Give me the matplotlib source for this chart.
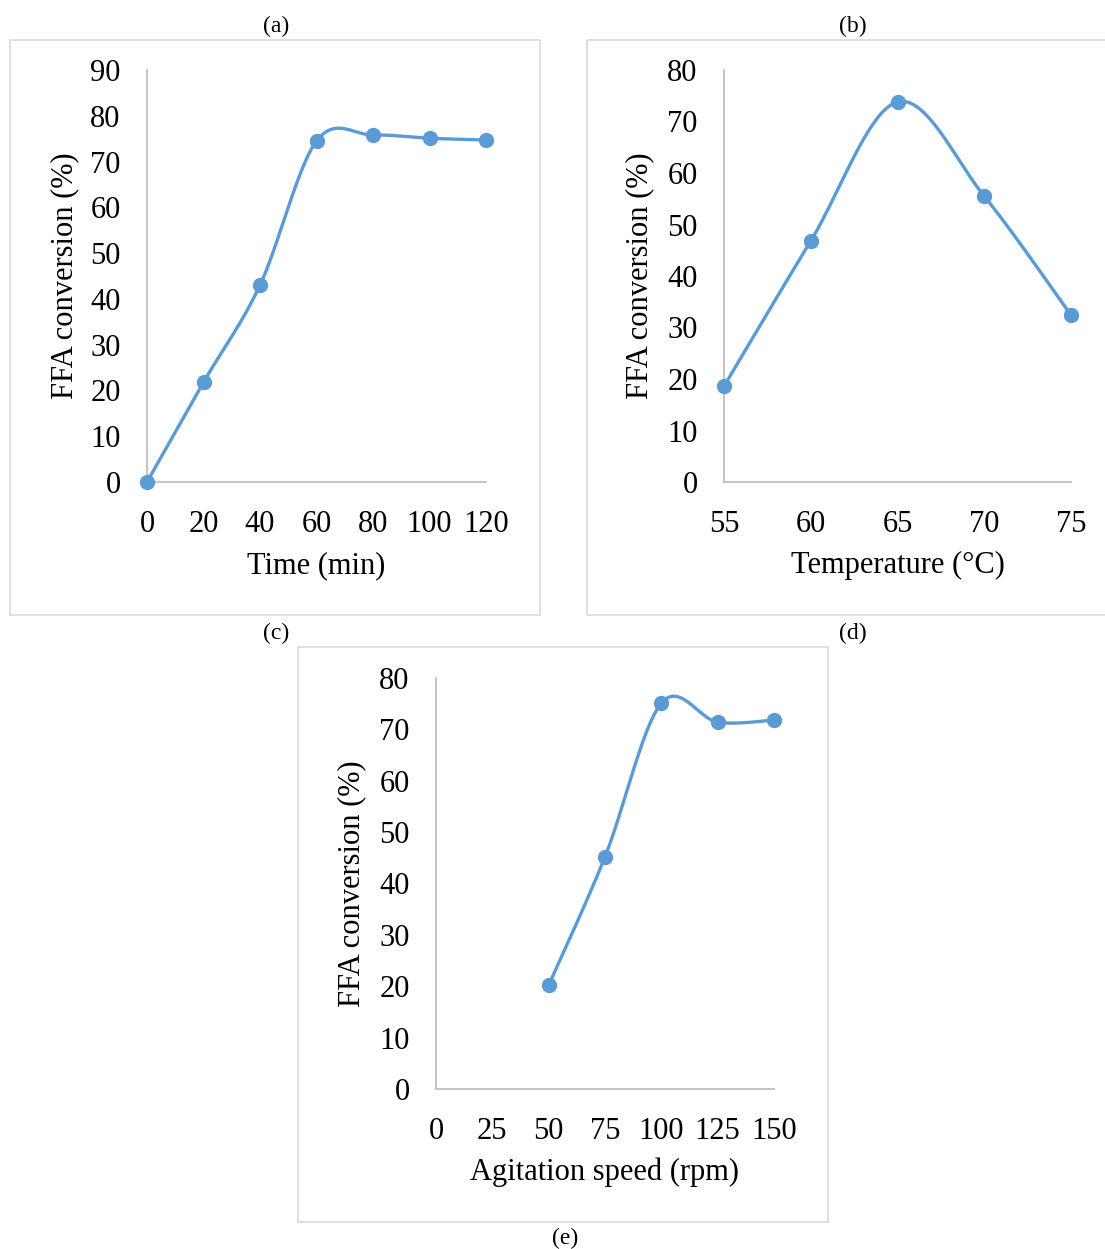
import numpy as np
import matplotlib
matplotlib.use("Agg")
import matplotlib.pyplot as plt
from matplotlib.patches import Rectangle

plt.rcParams['font.family'] = ['Liberation Serif', 'DejaVu Serif']

# ========== 数据 ==========
time_min = [0, 20, 40, 60, 80, 100, 120]
conv_time = [0.0, 21.8, 43.0, 74.5, 75.8, 75.1, 74.7]

temp_c = [55, 60, 65, 70, 75]
conv_temp = [18.6, 46.8, 73.8, 55.5, 32.4]

speed_rpm = [50, 75, 100, 125, 150]
conv_speed = [20.2, 45.2, 75.1, 71.4, 71.8]

LINE_COLOR = '#5b9bd5'
AXIS_COLOR = '#bfbfbf'
BOX_COLOR = '#d9d9d9'
W, H = 1105, 1249
FS = 22


def smooth_curve(ax, xs, ys, n=40):
    """Excel 风格平滑线 (Catmull-Rom / Bezier), 在像素空间计算"""
    pts = ax.transData.transform(np.column_stack([xs, ys]))
    out = [pts[0]]
    m = len(pts)
    for i in range(m - 1):
        p0 = pts[i - 1] if i > 0 else pts[i]
        p1, p2 = pts[i], pts[i + 1]
        p3 = pts[i + 2] if i + 2 < m else pts[i + 1]
        c1 = p1 + (p2 - p0) / 6.0
        c2 = p2 - (p3 - p1) / 6.0
        t = np.linspace(0, 1, n)[1:, None]
        seg = ((1 - t) ** 3) * p1 + 3 * ((1 - t) ** 2) * t * c1 + 3 * (1 - t) * t ** 2 * c2 + t ** 3 * p2
        out.extend(seg)
    out = np.array(out)
    return ax.transData.inverted().transform(out)


def make_panel(fig, rect_px, xs, ys, xticks, yticks, xlabel, ylab_x, xlab_y):
    left, right, bottom, top = rect_px
    ax = fig.add_axes([left / W, 1 - bottom / H, (right - left) / W, (bottom - top) / H])
    ax.set_xlim(xticks[0], xticks[-1])
    ax.set_ylim(yticks[0], yticks[-1])
    ax.set_xticks(xticks)
    ax.set_yticks(yticks)
    for s in ['top', 'right']:
        ax.spines[s].set_visible(False)
    for s in ['left', 'bottom']:
        ax.spines[s].set_color(AXIS_COLOR)
        ax.spines[s].set_linewidth(1.3)
    ax.tick_params(length=0, labelsize=FS)
    ax.tick_params(axis='x', pad=20)
    ax.tick_params(axis='y', pad=19)
    ax.set_facecolor('none')

    fig.canvas.draw()
    curve = smooth_curve(ax, xs, ys)
    ax.plot(curve[:, 0], curve[:, 1], color=LINE_COLOR, lw=2.4, clip_on=False, zorder=3)
    ax.plot(xs, ys, 'o', color=LINE_COLOR, ms=10, clip_on=False, zorder=4)

    ax.set_xlabel(xlabel, fontsize=FS, va='center')
    ax.xaxis.set_label_coords(0.5, xlab_y)
    ax.set_ylabel('FFA conversion (%)', fontsize=FS, va='center')
    ax.yaxis.set_label_coords(ylab_x, 0.5)
    return ax


fig = plt.figure(figsize=(W / 100, H / 100), dpi=100)

# 外框
for (x0, y0, x1, y1) in [(10, 40, 540, 615), (587, 40, 1110, 615), (298, 647, 828, 1222)]:
    fig.patches.append(Rectangle((x0 / W, 1 - y1 / H), (x1 - x0) / W, (y1 - y0) / H,
                                 transform=fig.transFigure, fill=False,
                                 edgecolor=BOX_COLOR, lw=1.2))

make_panel(fig, (147, 486, 482, 70), time_min, conv_time,
           list(range(0, 121, 20)), list(range(0, 91, 10)), 'Time (min)', -0.242, -0.203)
make_panel(fig, (724, 1071, 482, 70), temp_c, conv_temp,
           list(range(55, 76, 5)), list(range(0, 81, 10)), 'Temperature (°C)', -0.242, -0.203)
make_panel(fig, (436, 774, 1089, 678), speed_rpm, conv_speed,
           list(range(0, 151, 25)), list(range(0, 81, 10)), 'Agitation speed (rpm)', -0.249, -0.203)

for lab, x, y in [('(a)', 276, 26), ('(b)', 853, 26), ('(c)', 276, 633), ('(d)', 853, 633), ('(e)', 565, 1238)]:
    fig.text(x / W, 1 - y / H, lab, ha='center', va='center', fontsize=17)

plt.savefig('out.png', dpi=100)
plt.close()
